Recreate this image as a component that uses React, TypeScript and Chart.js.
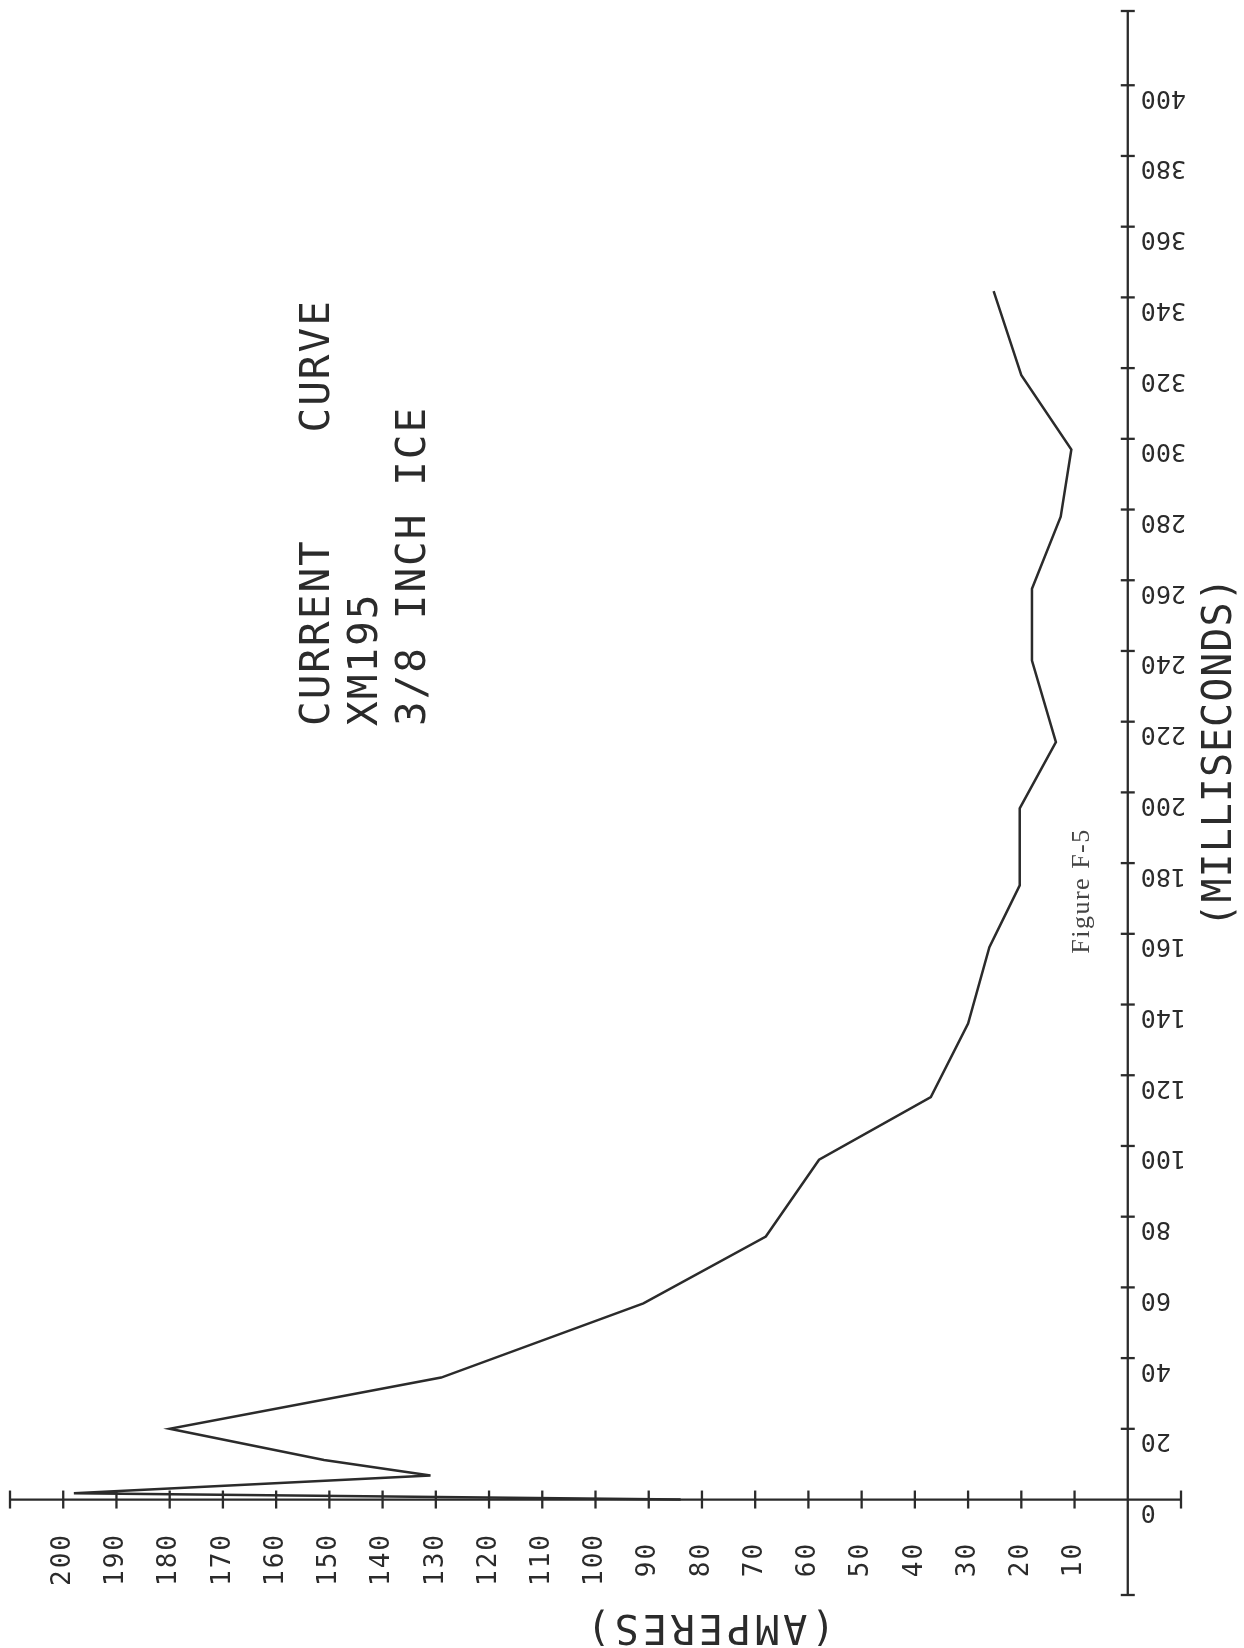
import React, { useEffect, useRef } from "react";
import { Chart, registerables } from "chart.js";

Chart.register(...registerables);

// ---- data ----
const TIME_MS = [0, 1.8, 6.8, 11.2, 20, 34.5, 55.5, 74.4, 96.1, 113.8, 134.6, 156.2, 173.7, 195.5, 214.2, 237.3, 257.6, 278, 297, 318, 341.8];
const CURRENT_A = [84, 198, 131, 151, 180, 129, 91, 68, 58, 37, 30, 26, 20.3, 20.3, 13.5, 18, 18, 12.6, 10.6, 20, 25.2];

const AMP_TICKS = [200, 190, 180, 170, 160, 150, 140, 130, 120, 110, 100, 90, 80, 70, 60, 50, 40, 30, 20, 10];
const MS_TICKS = [0, 20, 40, 60, 80, 100, 120, 140, 160, 180, 200, 220, 240, 260, 280, 300, 320, 340, 360, 380, 400];

const AMP_MIN = -10;
const AMP_MAX = 210;
const MS_MIN = -27;
const MS_MAX = 421;

const TITLE_LINES = ["CURRENT CURVE", "XM195", "3/8 INCH ICE"];
const AMP_TITLE = "(AMPERES)";
const MS_TITLE = "(MILLISECONDS)";
const FIGURE_LABEL = "Figure F-5";

const INK = "#2b2b2b";
const PLOT_FONT = '"DejaVu Sans Mono", monospace';

const plotterPlugin = {
  id: "plotterAxes",
  beforeDatasetsDraw(chart: any) {
    const ctx: any = chart.ctx;
    const xs = chart.scales.x;
    const ys = chart.scales.y;
    const x0 = xs.getPixelForValue(0);
    const y0 = ys.getPixelForValue(0);
    const xLeft = xs.getPixelForValue(AMP_MAX);
    const xRight = xs.getPixelForValue(AMP_MIN);
    const yTop = ys.getPixelForValue(MS_MAX);
    const yBot = ys.getPixelForValue(MS_MIN);

    const seg = (a: number, b: number, c: number, d: number) => {
      ctx.beginPath();
      ctx.moveTo(a, b);
      ctx.lineTo(c, d);
      ctx.stroke();
    };

    ctx.save();
    ctx.strokeStyle = INK;
    ctx.fillStyle = INK;
    ctx.lineWidth = 2.3;
    ctx.lineCap = "butt";

    // axes
    seg(xLeft, y0, xRight, y0);
    seg(x0, yTop, x0, yBot);

    // amp ticks + end caps
    [AMP_MAX, ...AMP_TICKS, AMP_MIN].forEach((a) => {
      const px = xs.getPixelForValue(a);
      seg(px, y0 - 9, px, y0 + 9);
    });
    // ms ticks + end caps
    [MS_MAX, ...MS_TICKS.filter((m) => m !== 0), MS_MIN].forEach((m) => {
      const py = ys.getPixelForValue(m);
      seg(x0 - 7, py, x0 + 7, py);
    });

    // ms tick labels (upside down)
    ctx.font = `25px ${PLOT_FONT}`;
    ctx.letterSpacing = "0px";
    MS_TICKS.forEach((m) => {
      const py = ys.getPixelForValue(m);
      ctx.save();
      ctx.translate(x0 + 13, py + 12);
      ctx.rotate(Math.PI);
      ctx.textAlign = "right";
      ctx.textBaseline = "middle";
      ctx.fillText(String(m), 0, 0);
      ctx.restore();
    });

    // amp tick labels (rotated, reading upward)
    ctx.font = `26px ${PLOT_FONT}`;
    ctx.letterSpacing = "2px";
    AMP_TICKS.forEach((a) => {
      const px = xs.getPixelForValue(a);
      ctx.save();
      ctx.translate(px, y0 + 60);
      ctx.rotate(-Math.PI / 2);
      ctx.textAlign = "center";
      ctx.textBaseline = "middle";
      ctx.fillText(String(a), 0, 0);
      ctx.restore();
    });

    // axis titles
    ctx.font = `40px ${PLOT_FONT}`;
    ctx.letterSpacing = "1px";
    ctx.save();
    ctx.translate(1221, 752);
    ctx.rotate(-Math.PI / 2);
    ctx.textAlign = "center";
    ctx.textBaseline = "middle";
    ctx.fillText(MS_TITLE, 0, 0);
    ctx.restore();

    ctx.letterSpacing = "4px";
    ctx.save();
    ctx.translate(709, 1625);
    ctx.rotate(Math.PI);
    ctx.textAlign = "center";
    ctx.textBaseline = "middle";
    ctx.fillText(AMP_TITLE, 0, 0);
    ctx.restore();

    // title block
    ctx.font = `41px ${PLOT_FONT}`;
    ctx.letterSpacing = "2px";
    const cols = [318, 366, 414];
    TITLE_LINES.forEach((t, i) => {
      ctx.save();
      ctx.wordSpacing = i === 0 ? "80px" : "0px";
      ctx.translate(cols[i], 726);
      ctx.rotate(-Math.PI / 2);
      ctx.textAlign = "left";
      ctx.textBaseline = "middle";
      ctx.fillText(t, 0, 0);
      ctx.restore();
    });

    // figure caption
    ctx.letterSpacing = "1.5px";
    ctx.font = '26px "Liberation Serif", serif';
    ctx.fillStyle = "#444";
    ctx.save();
    ctx.translate(1082, 891);
    ctx.rotate(-Math.PI / 2);
    ctx.textAlign = "center";
    ctx.textBaseline = "middle";
    ctx.fillText(FIGURE_LABEL, 0, 0);
    ctx.restore();

    ctx.restore();
  },
};

export default function App() {
  const canvasRef = useRef<HTMLCanvasElement | null>(null);

  useEffect(() => {
    if (!canvasRef.current) return;
    const points = TIME_MS.map((t, i) => ({ x: CURRENT_A[i], y: t }));
    const chart = new Chart(canvasRef.current, {
      type: "scatter",
      data: {
        datasets: [
          {
            data: points,
            showLine: true,
            borderColor: INK,
            borderWidth: 2.5,
            pointRadius: 0,
            tension: 0,
            fill: false,
          },
        ],
      },
      options: {
        animation: false,
        responsive: false,
        devicePixelRatio: 1,
        layout: { padding: { left: 10, right: 63, top: 11, bottom: 53 } },
        plugins: { legend: { display: false }, tooltip: { enabled: false } },
        scales: {
          x: { type: "linear", reverse: true, min: AMP_MIN, max: AMP_MAX, display: false },
          y: { type: "linear", min: MS_MIN, max: MS_MAX, display: false },
        },
      },
      plugins: [plotterPlugin],
    });
    return () => chart.destroy();
  }, []);

  return (
    <div style={{ position: "absolute", left: 0, top: 0, width: 1244, height: 1648, background: "#fff" }}>
      <canvas ref={canvasRef} width={1244} height={1648} />
    </div>
  );
}
